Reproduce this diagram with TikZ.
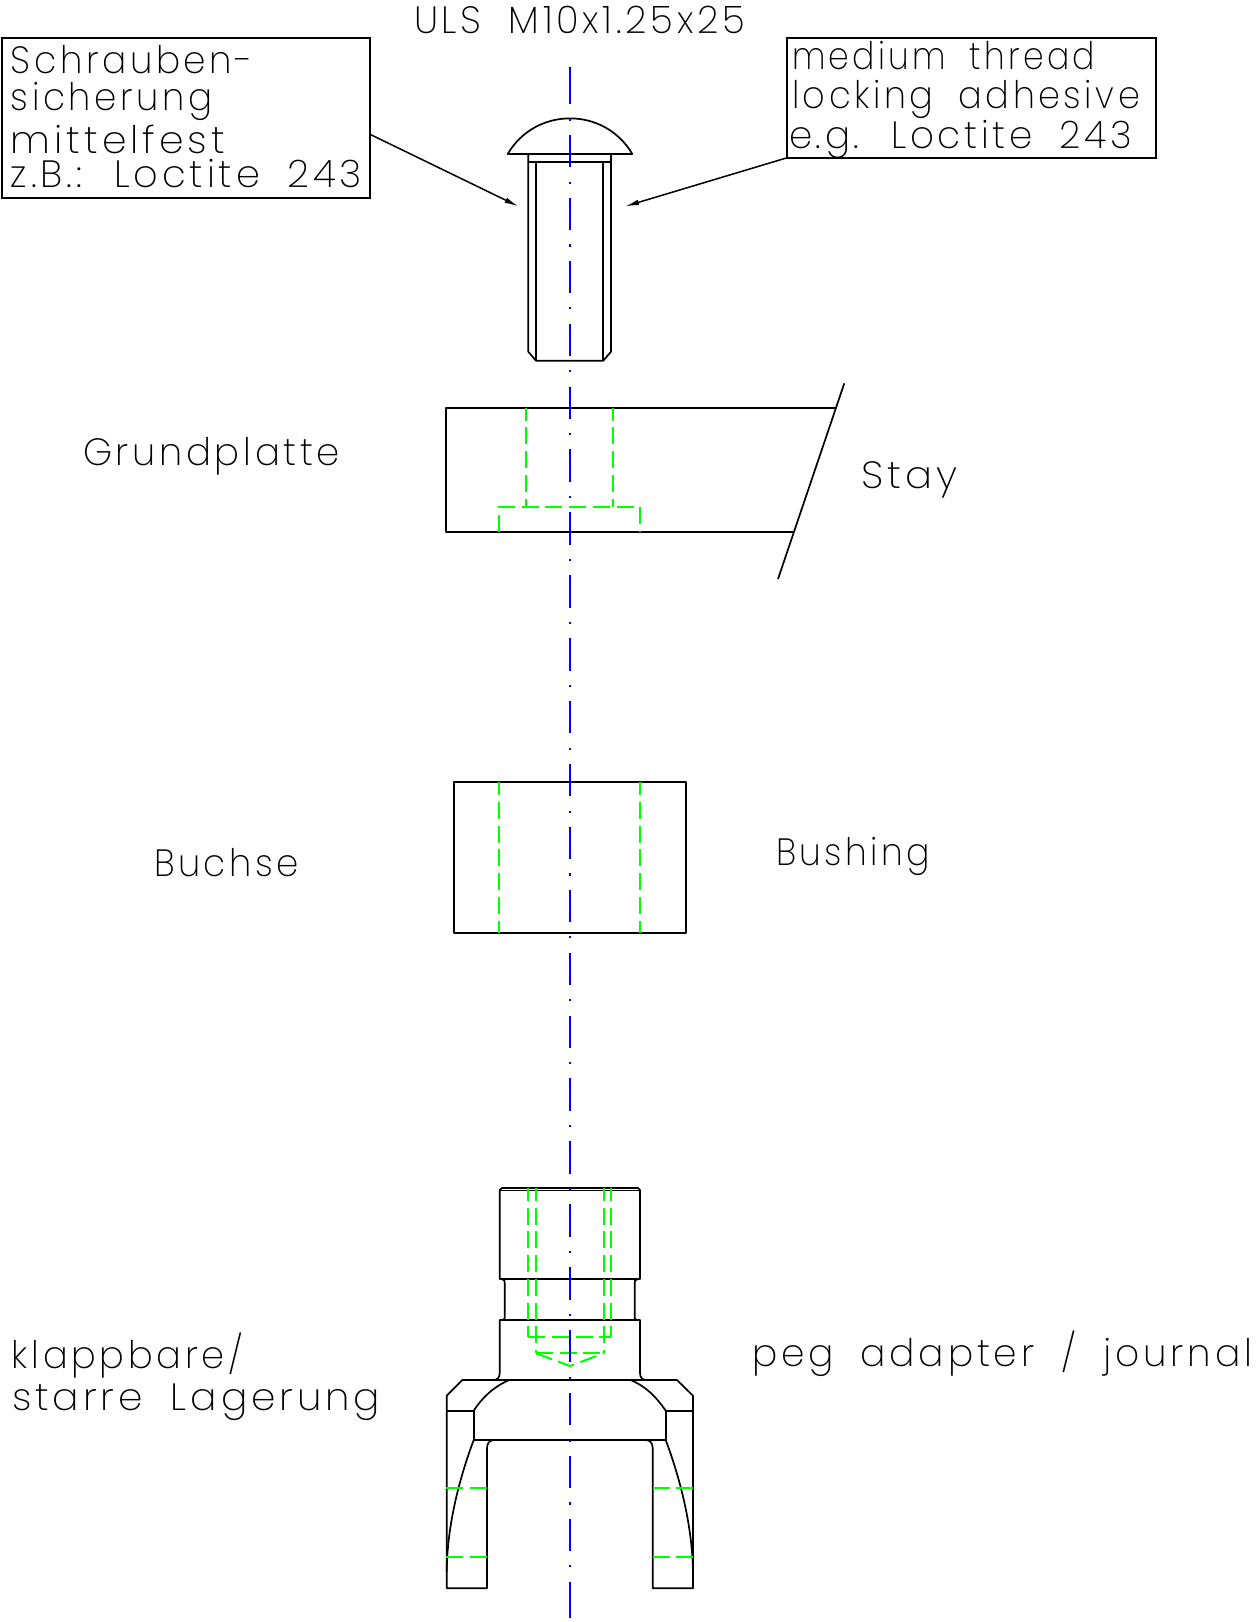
\documentclass[tikz,border=0pt]{standalone}
\usepackage{fontspec}
\usepackage{graphicx}
\usetikzlibrary{arrows.meta}
\newfontfamily\labfont{Poppins ExtraLight}[LetterSpace=10,WordSpace=1.9]
\definecolor{cadgreen}{RGB}{0,255,0}
\definecolor{cadblue}{RGB}{0,0,255}
\tikzset{
  part/.style={draw=black,line width=1.7pt,line join=round},
  hidden/.style={draw=cadgreen,line width=2pt,dash pattern=on 17pt off 6.7pt,dash phase=4pt},
  hiddenh/.style={draw=cadgreen,line width=2pt,dash pattern=on 17pt off 6.7pt},
  axisline/.style={draw=cadblue,line width=2pt,dash pattern=on 32.4pt off 14.2pt on 2.1pt off 14.2pt},
  axisend/.style={draw=cadblue,line width=2pt},
  callout/.style={draw=black,line width=1.7pt,inner sep=0pt,outer sep=0pt,fill=none},
  leader/.style={draw=black,line width=1.5pt,-{Latex[length=14pt,width=5.5pt]}},
  lab/.style={anchor=base west,inner sep=0pt,outer sep=0pt,text=black}
}
\newcommand{\lab}[5]{\node[lab] (#1) at (#2,#3) {\resizebox{#4pt}{\height}{\fontsize{38}{40}\labfont #5}};}
\begin{document}
\begin{tikzpicture}[x=1pt,y=-1pt]
\useasboundingbox (0,0) rectangle (1256,1622);
% callout boxes
\node[callout,minimum width=367.7pt,minimum height=160pt] (box1) at (186.15,118) {};
\node[callout,minimum width=368.4pt,minimum height=120pt] (box2) at (971.5,97.7) {};
\coordinate (tipL) at (518.5,206.4);
\coordinate (tipR) at (625,206.4);
\draw[leader] ([yshift=-16.3pt]box1.east) -- (tipL);
\draw[leader] (box2.south west) -- (tipR);
% texts
\lab{t0}{414}{33.3}{331}{ULS M10x1.25x25}
\lab{t1}{11}{73.7}{242}{Schrauben-}
\lab{t2}{11}{110}{201}{sicherung}
\lab{t3}{11}{153.7}{214}{mittelfest}
\lab{t4}{11}{187.5}{351}{z.B.: Loctite 243}
\lab{t5}{792}{69.3}{303}{medium thread}
\lab{t6}{792}{108.7}{348}{locking adhesive}
\lab{t7}{789}{148.7}{343}{e.g. Loctite 243}
\lab{t8}{83}{465}{257}{Grundplatte}
\lab{t9}{861}{488}{96}{Stay}
\lab{t10}{154}{876}{145}{Buchse}
\lab{t11}{776}{865}{154}{Bushing}
\lab{t12}{12}{1368}{231}{klappbare/}
\lab{t13}{12}{1410}{368}{starre Lagerung}
\lab{t14}{752}{1366}{500}{peg adapter / journal}
% bolt
\draw[part] (507.7,154) .. controls (535.6,106.5) and (604.4,106.5) .. (632.3,154) -- cycle;
\draw[part] (528.3,154) -- (528.3,351.7) -- (536,360.7) -- (603.3,360.7) -- (611,351.7) -- (611,154);
\draw[part] (528.3,162) -- (611,162);
\draw[part] (536,162) -- (536,360.7);
\draw[part] (603.3,162) -- (603.3,360.7);
% plate
\draw[part] (835.3,407.7) -- (445.7,407.7) -- (445.7,531.7) -- (793.3,531.7);
\draw[part] (844.3,383.3) -- (778,579);
\draw[hidden] (526,407.7) -- (526,506.7);
\draw[hidden] (613.3,407.7) -- (613.3,506.7);
\draw[hiddenh] (499.3,531.7) -- (499.3,506.7) -- (640,506.7) -- (640,531.7);
% bushing
\draw[part] (454,782.3) rectangle (685.7,932.7);
\draw[hidden] (499.3,782.3) -- (499.3,932.7);
\draw[hidden] (640,782.3) -- (640,932.7);
% journal
\draw[part] (499.7,1279) -- (499.7,1190) -- (502,1188) -- (638,1188) -- (640,1190) -- (640,1279) -- cycle;
\draw[part,line width=1pt] (499.7,1190.3) -- (640,1190.3);
\draw[part] (502,1279) .. controls (504.7,1280) and (504.7,1281) .. (504.7,1283) -- (504.7,1317) .. controls (504.7,1319) and (504.7,1320) .. (502,1320);
\draw[part] (637.7,1279) .. controls (634.7,1280) and (634.7,1281) .. (634.7,1283) -- (634.7,1317) .. controls (634.7,1319) and (634.7,1320) .. (637.7,1320);
\draw[part] (493.3,1380) .. controls (497,1380) and (499.7,1378) .. (499.7,1373) -- (499.7,1320) -- (640,1320) -- (640,1373) .. controls (640,1378) and (642.7,1380) .. (646.7,1380);
% fork
\draw[part] (446.7,1588.3) -- (446.7,1395.7) -- (462.3,1380) -- (677,1380) -- (693,1395.7) -- (693,1588.3) -- (652.7,1588.3) -- (652.7,1448) .. controls (652.7,1443) and (650,1440) .. (645.7,1440) -- (494,1440) .. controls (490,1440) and (487,1443) .. (487,1448) -- (487,1588.3) -- cycle;
\draw[part] (446.7,1410.7) -- (473.7,1410.7) -- (473.7,1440) -- (665.7,1440) -- (665.7,1410.7) -- (693,1410.7);
\draw[part] (509.3,1380) .. controls (493,1387) and (482,1398) .. (473.7,1410.7);
\draw[part] (630.7,1380) .. controls (647,1387) and (657,1398) .. (665.7,1410.7);
\draw[part] (473.7,1440) .. controls (455,1490) and (447,1535) .. (446.7,1571.7);
\draw[part] (665.7,1440) .. controls (684.4,1490) and (692.4,1535) .. (693,1571.7);
% journal hidden lines
\draw[hidden] (528.3,1188) -- (528.3,1336.7);
\draw[hidden] (611,1188) -- (611,1336.7);
\draw[hidden] (536,1188) -- (536,1353.3);
\draw[hidden] (603.7,1188) -- (603.7,1353.3);
\draw[hiddenh] (528.3,1336.7) -- (611,1336.7);
\draw[hiddenh] (536,1353.3) -- (603.7,1353.3);
\draw[hiddenh] (536,1353.3) -- (570,1366) -- (603.7,1353.3);
\draw[hiddenh] (446,1488) -- (487,1488);
\draw[hiddenh] (446,1557) -- (487,1557);
\draw[hiddenh] (652.7,1488) -- (693,1488);
\draw[hiddenh] (652.7,1557) -- (693,1557);
% axis
\draw[axisend] (569.7,66.7) -- (569.7,72);
\draw[axisline] (569.7,72) -- (569.7,1614);
\draw[axisend] (569.7,1613.9) -- (569.7,1618);
\end{tikzpicture}
\end{document}
